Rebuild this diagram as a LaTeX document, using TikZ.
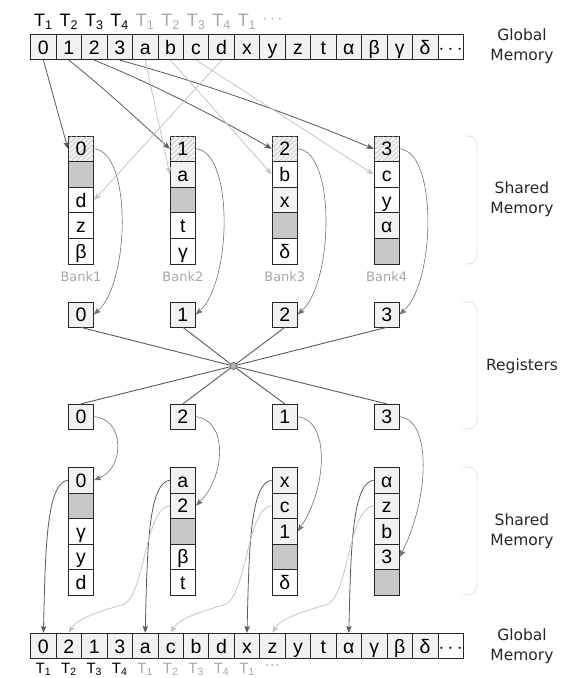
\documentclass[tikz,border=0pt]{standalone}
\usepackage{fontspec}
\setmainfont{Liberation Sans}
\newfontfamily\labfont{DejaVu Sans}
\usetikzlibrary{arrows.meta,patterns.meta,calc}
\definecolor{lightc}{HTML}{F2F2F2}
\definecolor{grayc}{HTML}{C8C8C8}
\definecolor{darkln}{HTML}{5A5A5A}
\definecolor{midln}{HTML}{707070}
\definecolor{lightln}{HTML}{C4C4C4}
\definecolor{tgray}{HTML}{A8A8A8}
\definecolor{brk}{HTML}{E2E2E2}
\begin{document}
\begin{tikzpicture}[x=1pt,y=-1pt,
  cell/.style={draw=black!85, line width=0.7pt, minimum width=25.45pt, minimum height=25.6pt,
    inner sep=0pt, text height=14pt, text depth=0pt, font=\fontsize{19.5}{22}\selectfont},
  lc/.style={cell, fill=lightc},
  wc/.style={cell, fill=white},
  gc/.style={cell, fill=grayc},
  hc/.style={cell, fill=lightc, postaction={pattern={Lines[angle=45,distance=3.5pt,line width=0.4pt]}, pattern color=black!30}},
  reg/.style={lc, minimum width=25pt, minimum height=25pt},
  tl/.style={inner sep=0pt, font=\fontsize{18}{20}\selectfont},
  tlg/.style={tl, text=tgray},
  tlb/.style={inner sep=0pt, text depth=0pt, font=\fontsize{15}{17}\selectfont},
  tlbg/.style={tlb, text=tgray},
  banklab/.style={inner sep=0pt, text=tgray, font=\labfont\fontsize{13}{15}\selectfont},
  rlab/.style={align=center, inner sep=0pt, text=black!85, font=\labfont\fontsize{15.5}{20.5}\selectfont},
  tip/.style={-{Stealth[length=7pt,width=5.5pt,inset=1.5pt]}},
  darkarr/.style={draw=darkln, line width=0.8pt, tip},
  lightarr/.style={draw=lightln, line width=0.8pt, tip},
  midarr/.style={draw=midln, line width=0.6pt, tip},
  hubln/.style={draw=darkln, line width=0.9pt},
  bracket/.style={draw=brk, line width=0.8pt, rounded corners=9pt}
]
\useasboundingbox (0,0) rectangle (580,678);

% ---------- top global memory ----------
\foreach \t [count=\i from 0] in {0,1,2,3,a,b,c,d,x,y,z,t,α,β,γ,δ}
  \node[lc] (g\i) at ({43.4+25.45*\i},47) {\t};
\node[wc] (g16) at ({43.4+25.45*16},47) {$\cdots$};
\foreach \i in {1,2,3,4}
  \node[tl] at ({43.4+25.45*(\i-1)},22) {T\textsubscript{\i}};
\foreach \i/\n in {4/1,5/2,6/3,7/4,8/1}
  \node[tlg] at ({43.4+25.45*\i},22) {T\textsubscript{\n}};
\node[tlg] at ({43.4+25.45*9},20) {$\cdots$};
\node[rlab] at (522,46) {Global\\Memory};

% ---------- top shared memory ----------
\node[hc] (s11) at (81,148.8) {0};
\node[gc] (s12) at (81,174.4) {};
\node[wc] (s13) at (81,200) {d};
\node[wc] (s14) at (81,225.6) {z};
\node[wc] (s15) at (81,251.2) {β};
\node[hc] (s21) at (182.9,148.8) {1};
\node[lc] (s22) at (182.9,174.4) {a};
\node[gc] (s23) at (182.9,200) {};
\node[wc] (s24) at (182.9,225.6) {t};
\node[wc] (s25) at (182.9,251.2) {γ};
\node[hc] (s31) at (284.8,148.8) {2};
\node[wc] (s32) at (284.8,174.4) {b};
\node[lc] (s33) at (284.8,200) {x};
\node[gc] (s34) at (284.8,225.6) {};
\node[wc] (s35) at (284.8,251.2) {δ};
\node[hc] (s41) at (386.7,148.8) {3};
\node[wc] (s42) at (386.7,174.4) {c};
\node[wc] (s43) at (386.7,200) {y};
\node[lc] (s44) at (386.7,225.6) {α};
\node[gc] (s45) at (386.7,251.2) {};
\node[banklab] at (81,277) {Bank1};
\node[banklab] at (182.9,277) {Bank2};
\node[banklab] at (284.8,277) {Bank3};
\node[banklab] at (386.7,277) {Bank4};
\draw[bracket] (462,136) -| (477,200) |- (462,264);
\node[rlab] at (522,199) {Shared\\Memory};

% global -> shared
\draw[darkarr] (g0.south) -- (s11.west);
\draw[darkarr] (g1.south) .. controls +(34,27) and +(-34,-31) .. (s21.west);
\draw[darkarr] (g2.south) .. controls +(59,24) and +(-59,-34) .. (s31.west);
\draw[darkarr] (g3.south) .. controls +(84,23) and +(-84,-35) .. (s41.west);
\draw[lightarr] (g4.south) -- (s22.west);
\draw[lightarr] (g5.south) -- (s32.west);
\draw[lightarr] (g6.south) -- (s42.west);
\draw[lightarr] (g7.south) -- (s13.east);

% ---------- registers ----------
\node[reg] (r1) at (81,314.5) {0};
\node[reg] (r2) at (182.9,314.5) {1};
\node[reg] (r3) at (284.8,314.5) {2};
\node[reg] (r4) at (386.7,314.5) {3};
\node[reg] (q1) at (81,416.7) {0};
\node[reg] (q2) at (182.9,416.7) {2};
\node[reg] (q3) at (284.8,416.7) {1};
\node[reg] (q4) at (386.7,416.7) {3};
\node[circle, draw=darkln, fill=black!30, minimum size=7pt, inner sep=0pt, line width=0.6pt] (hub) at (233.3,366) {};
\foreach \r in {r1,r2,r3,r4} \draw[hubln] (\r.south) -- (hub);
\foreach \q in {q1,q2,q3,q4} \draw[hubln] (hub) -- (\q.north);
\draw[bracket] (462,302) -| (477,366) |- (462,429);
\node[rlab] at (522,366) {Registers};

% shared -> registers
\draw[midarr] (s11.east) .. controls +(38,3) and +(36,-32) .. (r1.east);
\draw[midarr] (s21.east) .. controls +(38,3) and +(36,-32) .. (r2.east);
\draw[midarr] (s31.east) .. controls +(38,3) and +(36,-32) .. (r3.east);
\draw[midarr] (s41.east) .. controls +(38,3) and +(36,-32) .. (r4.east);

% ---------- lower shared memory ----------
\node[lc] (t11) at (81,480.1) {0};
\node[gc] (t12) at (81,505.7) {};
\node[wc] (t13) at (81,531.3) {γ};
\node[wc] (t14) at (81,556.9) {y};
\node[wc] (t15) at (81,582.5) {d};
\node[lc] (t21) at (182.9,480.1) {a};
\node[lc] (t22) at (182.9,505.7) {2};
\node[gc] (t23) at (182.9,531.3) {};
\node[wc] (t24) at (182.9,556.9) {β};
\node[wc] (t25) at (182.9,582.5) {t};
\node[lc] (t31) at (284.8,480.1) {x};
\node[lc] (t32) at (284.8,505.7) {c};
\node[lc] (t33) at (284.8,531.3) {1};
\node[gc] (t34) at (284.8,556.9) {};
\node[wc] (t35) at (284.8,582.5) {δ};
\node[lc] (t41) at (386.7,480.1) {α};
\node[lc] (t42) at (386.7,505.7) {z};
\node[lc] (t43) at (386.7,531.3) {b};
\node[lc] (t44) at (386.7,556.9) {3};
\node[gc] (t45) at (386.7,582.5) {};
\draw[bracket] (462,467) -| (477,531) |- (462,595);
\node[rlab] at (522,531) {Shared\\Memory};

% registers -> lower shared
\draw[midarr] (q1.east) .. controls +(31,2) and +(31,-12) .. (t11.east);
\draw[midarr] (q2.east) .. controls +(32,3) and +(30,-30) .. (t22.east);
\draw[midarr] (q3.east) .. controls +(32,3) and +(30,-45) .. (t33.east);
\draw[midarr] (q4.east) .. controls +(32,3) and +(30,-60) .. (t44.east);

% ---------- bottom global memory ----------
\foreach \t [count=\i from 0] in {0,2,1,3,a,c,b,d,x,z,y,t,α,γ,β,δ}
  \node[lc] (b\i) at ({43.4+25.45*\i},646) {\t};
\node[wc] (b16) at ({43.4+25.45*16},646) {$\cdots$};
\foreach \i in {1,2,3,4}
  \node[tlb] at ({43.4+25.45*(\i-1)},668) {T\textsubscript{\i}};
\foreach \i/\n in {4/1,5/2,6/3,7/4,8/1}
  \node[tlbg] at ({43.4+25.45*\i},668) {T\textsubscript{\n}};
\node[tlbg, font=\fontsize{15}{17}\selectfont] at ({43.4+25.45*9},667) {···};
\node[rlab] at (522,646) {Global\\Memory};

% lower shared -> global
\draw[darkarr] (t11.west) .. controls +(-22,3) and +(2,-80) .. (b0.north);
\draw[darkarr] (t21.west) .. controls +(-22,3) and +(2,-80) .. (b4.north);
\draw[darkarr] (t31.west) .. controls +(-22,3) and +(2,-80) .. (b8.north);
\draw[darkarr] (t41.west) .. controls +(-22,3) and +(2,-80) .. (b12.north);
\draw[lightarr] (t22.west) .. controls +(-25,2) and +(22,-8) .. ($(t22.west)+(-47,99)$) .. controls +(-25,7) and +(8,-14) .. (b1.north);
\draw[lightarr] (t32.west) .. controls +(-25,2) and +(22,-8) .. ($(t32.west)+(-47,99)$) .. controls +(-25,7) and +(8,-14) .. (b5.north);
\draw[lightarr] (t42.west) .. controls +(-25,2) and +(22,-8) .. ($(t42.west)+(-47,99)$) .. controls +(-25,7) and +(8,-14) .. (b9.north);
\end{tikzpicture}
\end{document}
